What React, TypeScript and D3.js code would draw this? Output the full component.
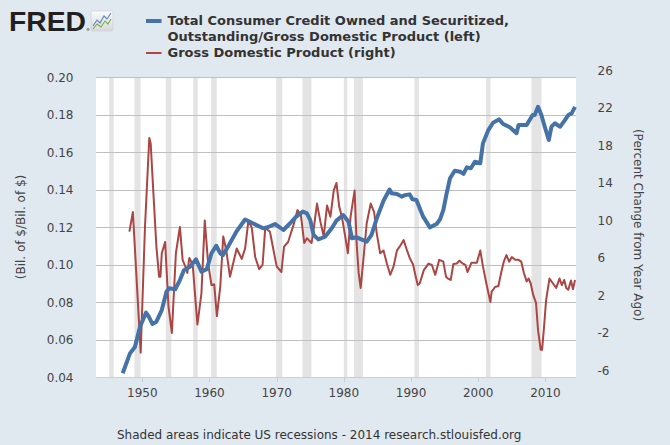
import React, { useEffect } from 'react';
import * as d3 from 'd3';

// Recession periods (decimal years)
const recessionStarts = [1945.08, 1948.83, 1953.5, 1957.58, 1960.25, 1969.92, 1973.83, 1980.0, 1981.5, 1990.5, 2001.17, 2007.92];
const recessionEnds = [1945.75, 1949.75, 1954.33, 1958.25, 1961.08, 1970.83, 1975.17, 1980.5, 1982.83, 1991.17, 2001.83, 2009.42];

const xTickYears = [1950, 1960, 1970, 1980, 1990, 2000, 2010];
const leftTicks = [0.04, 0.06, 0.08, 0.10, 0.12, 0.14, 0.16, 0.18, 0.20];
const rightTicks = [-6, -2, 2, 6, 10, 14, 18, 22, 26];

// Total Consumer Credit / GDP (left axis)
const creditYears = [
  1947.08, 1948.17, 1948.9, 1949.66, 1950.55, 1951.0, 1951.5, 1952.1, 1952.9, 1953.6,
  1954.0, 1954.9, 1955.6, 1956.2, 1957.1, 1958.0, 1958.8, 1959.6, 1960.3, 1961.0,
  1961.6, 1962.0, 1962.8, 1964.0, 1965.3, 1966.0, 1967.0, 1968.0, 1968.75, 1969.75,
  1970.2, 1971.0, 1972.0, 1972.9, 1973.9, 1974.5, 1975.0, 1975.5, 1976.2, 1977.2,
  1978.2, 1978.9, 1979.9, 1980.7, 1981.2, 1981.9, 1982.6, 1983.4, 1984.1, 1984.9,
  1985.9, 1986.8, 1987.1, 1987.9, 1988.6, 1989.1, 1989.8, 1990.2, 1990.8, 1991.8,
  1992.8, 1993.8, 1994.3, 1994.8, 1995.3, 1995.8, 1996.5, 1997.3, 1997.8, 1998.3,
  1998.9, 1999.5, 2000.3, 2000.7, 2001.5, 2002.2, 2003.1, 2003.7, 2004.7, 2005.7,
  2006.0, 2007.2, 2008.1, 2008.4, 2008.9, 2009.4, 2009.9, 2010.5, 2010.9, 2011.4,
  2012.2, 2012.9, 2013.4, 2013.9, 2014.4,
];
const creditValues = [
  0.0420, 0.0526, 0.0560, 0.0668, 0.0743, 0.0720, 0.0683, 0.0695, 0.0757, 0.0855,
  0.0873, 0.0868, 0.0917, 0.0970, 0.0988, 0.1028, 0.0962, 0.0975, 0.1060, 0.1100,
  0.1060, 0.1050, 0.1098, 0.1175, 0.1240, 0.1228, 0.1210, 0.1193, 0.1200, 0.1216,
  0.1205, 0.1184, 0.1220, 0.1255, 0.1282, 0.1273, 0.1237, 0.1157, 0.1134, 0.1148,
  0.1193, 0.1234, 0.1264, 0.1228, 0.1140, 0.1145, 0.1134, 0.1122, 0.1157, 0.1246,
  0.1340, 0.1400, 0.1380, 0.1376, 0.1362, 0.1370, 0.1374, 0.1348, 0.1344, 0.1255,
  0.1198, 0.1216, 0.1240, 0.1290, 0.1380, 0.1460, 0.1500, 0.1495, 0.1483, 0.1518,
  0.1513, 0.1548, 0.1540, 0.1646, 0.1717, 0.1756, 0.1774, 0.1749, 0.1732, 0.1700,
  0.1744, 0.1744, 0.1797, 0.1797, 0.1841, 0.1797, 0.1735, 0.1664, 0.1735, 0.1753,
  0.1735, 0.1770, 0.1797, 0.1806, 0.1841,
];

// GDP percent change from year ago (right axis)
const gdpYears = [
  1948.08, 1948.6, 1949.76, 1950.4, 1951.04, 1951.25, 1951.6, 1952.1, 1952.5, 1952.7,
  1952.9, 1953.4, 1953.9, 1954.4, 1955.0, 1955.6, 1956.0, 1956.4, 1956.7, 1957.0,
  1957.5, 1958.2, 1958.8, 1959.3, 1959.8, 1960.3, 1960.7, 1961.1, 1961.6, 1962.05,
  1962.5, 1963.05, 1964.05, 1964.8, 1965.3, 1965.8, 1966.3, 1966.8, 1967.4, 1967.9,
  1968.3, 1969.0, 1969.4, 1970.0, 1970.7, 1971.1, 1971.7, 1972.1, 1972.5, 1973.1,
  1973.6, 1974.1, 1974.5, 1975.2, 1975.55, 1976.0, 1976.5, 1977.0, 1977.5, 1978.0,
  1978.5, 1978.9, 1979.3, 1979.7, 1980.2, 1980.6, 1981.0, 1981.6, 1981.9, 1982.2,
  1982.5, 1982.9, 1983.4, 1984.0, 1984.5, 1984.9, 1985.4, 1985.9, 1986.4, 1986.9,
  1987.4, 1987.9, 1988.3, 1988.9, 1989.4, 1989.8, 1990.3, 1990.7, 1991.0, 1991.3,
  1991.9, 1992.6, 1993.1, 1993.6, 1994.2, 1994.8, 1995.2, 1995.5, 1995.9, 1996.3,
  1996.8, 1997.2, 1997.7, 1998.1, 1998.4, 1999.0, 1999.8, 2000.3, 2000.7, 2001.2,
  2001.8, 2002.0, 2002.5, 2003.0, 2003.4, 2003.8, 2004.2, 2004.6, 2005.0, 2005.5,
  2006.0, 2006.4, 2006.8, 2007.2, 2007.5, 2007.8, 2008.2, 2008.6, 2008.9, 2009.3,
  2009.5, 2009.8, 2010.1, 2010.6, 2011.1, 2011.6, 2012.1, 2012.45, 2012.8, 2013.1,
  2013.4, 2013.8, 2014.1, 2014.4,
];
const gdpValues = [
  9.5, 11.6, -3.4, 10.0, 19.5, 18.9, 14.3, 7.9, 4.7, 4.7,
  7.2, 8.4, 1.5, -1.3, 7.2, 10.0, 6.5, 5.8, 5.1, 6.7,
  6.0, -0.4, 2.9, 10.7, 6.1, 3.8, 3.9, 0.5, 3.6, 9.0,
  7.5, 4.7, 7.7, 6.6, 7.7, 10.7, 9.9, 6.8, 5.5, 5.95,
  9.9, 9.5, 8.0, 5.8, 5.2, 7.9, 8.4, 9.3, 10.2, 11.8,
  11.3, 8.3, 8.8, 8.3, 10.0, 12.5, 10.6, 9.0, 12.3, 11.1,
  13.9, 14.7, 12.2, 11.1, 9.0, 7.2, 11.1, 13.9, 8.3, 5.1,
  3.5, 6.5, 10.4, 12.5, 11.6, 9.3, 7.2, 7.5, 6.1, 4.9,
  5.8, 7.5, 7.9, 8.6, 7.5, 6.7, 6.0, 4.7, 3.8, 4.0,
  5.4, 6.1, 5.95, 4.9, 6.5, 6.3, 4.7, 4.5, 4.35, 6.05,
  6.1, 6.4, 6.1, 5.95, 5.2, 6.2, 6.2, 7.5, 5.8, 4.0,
  2.0, 3.1, 3.6, 3.7, 5.1, 6.3, 7.0, 6.3, 6.8, 6.5,
  6.5, 6.3, 5.1, 4.2, 4.5, 4.0, 2.7, 1.9, -1.0, -3.1,
  -3.1, -0.6, 2.2, 4.5, 4.0, 3.5, 4.5, 3.8, 4.35, 3.5,
  3.3, 4.3, 3.35, 4.35,
];

const FONT = '"DejaVu Sans", Verdana, sans-serif';

export default function App() {
  useEffect(() => {
    document.body.style.margin = '0';
  }, []);

  const W = 670, H = 445;
  const left = 96, right = 576, top = 77, bottom = 377;

  const x = d3.scaleLinear().domain([1943.11, 2014.55]).range([left, right]);
  const yL = d3.scaleLinear().domain([0.04, 0.20]).range([bottom, top]);
  const yR = d3.scaleLinear().domain([-6, 26]).range([bottom, top]);

  const creditLine = d3.line<number>()
    .x((_, i) => x(creditYears[i]))
    .y((d) => yL(d))(creditValues) || '';
  const gdpLine = d3.line<number>()
    .x((_, i) => x(gdpYears[i]))
    .y((d) => yR(d))(gdpValues) || '';

  return (
    <svg width={W} height={H} style={{ display: 'block', position: 'absolute', left: 0, top: 0 }}
      fontFamily={FONT}>
      <defs>
        <linearGradient id="icon-grad" x1="0" y1="0" x2="0" y2="1">
          <stop offset="0" stopColor="#fbfbfb" />
          <stop offset="1" stopColor="#d6d9dc" />
        </linearGradient>
      </defs>
      <rect x={0} y={0} width={W} height={H} fill="#E1E9F0" />

      {/* FRED logo */}
      <text x={9} y={30.5} fontFamily='"Liberation Sans", Arial, sans-serif' fontWeight={900}
        fontSize={28} fill="#231f20" textLength={77} lengthAdjust="spacingAndGlyphs">FRED</text>
      <text x={86} y={31} fontSize={4} fill="#231f20">®</text>
      <rect x={91} y={11} width={22} height={20} rx={1.5} fill="url(#icon-grad)" stroke="#c9ccd0" strokeWidth={0.6} />
      <path d="M93,26 L97,20 L100,23 L104,16 L107,19 L111,13" fill="none" stroke="#5b86c4" strokeWidth={1.1} />
      <path d="M93,29 L97,24 L101,27 L105,21 L108,24 L111,19" fill="none" stroke="#79b04d" strokeWidth={1.1} />

      {/* Legend */}
      <rect x={146} y={19} width={15.5} height={4} fill="#4572A7" />
      <text x={167.5} y={25} fontSize={13} fontWeight="bold" fill="#333">Total Consumer Credit Owned and Securitized,</text>
      <text x={167.5} y={41} fontSize={13} fontWeight="bold" fill="#333">Outstanding/Gross Domestic Product (left)</text>
      <rect x={146} y={52} width={15.5} height={2} fill="#AA4643" />
      <text x={167.5} y={57} fontSize={13} fontWeight="bold" fill="#333">Gross Domestic Product (right)</text>

      {/* Plot background */}
      <rect x={left} y={top} width={right - left} height={bottom - top} fill="#ffffff" />

      {/* Recession shading */}
      {recessionStarts.map((s, i) => (
        <rect key={'r' + i} x={x(s)} y={top} width={x(recessionEnds[i]) - x(s)} height={bottom - top} fill="#E4E4E4" />
      ))}

      {/* Gridlines */}
      {leftTicks.map((t) => (
        <line key={'g' + t} x1={left} x2={right} y1={Math.round(yL(t)) + 0.5} y2={Math.round(yL(t)) + 0.5}
          stroke="#C0C0C0" strokeWidth={1} />
      ))}

      {/* X axis */}
      <line x1={left} x2={right} y1={bottom + 0.5} y2={bottom + 0.5} stroke="#C0D0E0" strokeWidth={1} />
      {xTickYears.map((t) => (
        <g key={'x' + t}>
          <line x1={Math.round(x(t)) + 0.5} x2={Math.round(x(t)) + 0.5} y1={bottom} y2={bottom + 5} stroke="#C0D0E0" />
          <text x={x(t)} y={397} textAnchor="middle" fontSize={12} fill="#444">{t}</text>
        </g>
      ))}

      {/* Left axis labels */}
      {leftTicks.map((t) => (
        <text key={'l' + t} x={73.5} y={yL(t) + 4.5} textAnchor="end" fontSize={12} fill="#444">{t.toFixed(2)}</text>
      ))}
      {/* Right axis labels */}
      {rightTicks.map((t) => (
        <text key={'rt' + t} x={597.5} y={yR(t) - 2.5} textAnchor="start" fontSize={12} fill="#444">{t}</text>
      ))}

      {/* Axis titles */}
      <text transform="translate(25,227) rotate(-90)" textAnchor="middle" fontSize={12} fill="#444">(Bil. of $/Bil. of $)</text>
      <text transform="translate(633.5,225) rotate(90)" textAnchor="middle" fontSize={12} fill="#444">(Percent Change from Year Ago)</text>

      {/* Series */}
      <path d={gdpLine} fill="none" stroke="#AA4643" strokeWidth={2} strokeLinejoin="round" />
      <path d={creditLine} fill="none" stroke="#4572A7" strokeWidth={4} strokeLinejoin="round" />

      {/* Footer */}
      <text x={117} y={438.5} fontSize={12} fill="#333">Shaded areas indicate US recessions - 2014 research.stlouisfed.org</text>
    </svg>
  );
}
